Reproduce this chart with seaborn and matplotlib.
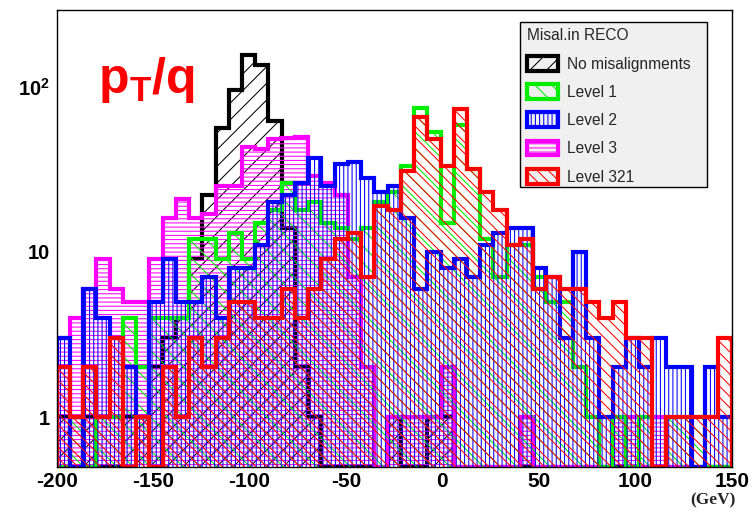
import numpy as np
import matplotlib
matplotlib.use("Agg")
import matplotlib.pyplot as plt
import matplotlib.colors as mcolors
from matplotlib.patches import Patch, Rectangle
from matplotlib.ticker import FixedLocator, FixedFormatter, LogLocator, NullFormatter, MultipleLocator
import seaborn as sns

# ---------------- data (counts per bin, 51 bins from -200 to 150 GeV) ----------------
BIN_EDGES = list(np.linspace(-200, 150, 52))

no_misal = [1, 0, 1, 0, 0, 1, 1, 2, 3, 4,
            9, 22, 56, 96, 156, 136, 62, 14, 2, 1,
            0, 0, 0, 0, 0, 1, 0, 0, 1, 1,
            0, 0, 0, 0, 0, 0, 0, 0, 0, 0,
            0, 0, 0, 0, 0, 0, 0, 0, 0, 0,
            0]
level1 = [0, 1, 0, 1, 1, 4, 2, 4, 4, 4,
          12, 12, 9, 13, 9, 15, 18, 26, 18, 20,
          15, 14, 12, 14, 20, 23, 33, 74, 53, 15,
          59, 32, 12, 7, 11, 11, 7, 5, 5, 2,
          1, 0, 1, 0, 1, 0, 1, 1, 1, 0,
          0]
level2 = [3, 0, 6, 4, 3, 2, 1, 5, 9, 5,
          5, 7, 4, 8, 8, 11, 20, 22, 26, 37,
          25, 34, 35, 28, 23, 25, 16, 6, 10, 8,
          9, 7, 11, 13, 14, 14, 8, 7, 3, 10,
          3, 1, 2, 3, 2, 3, 2, 2, 0, 2,
          1]
level3 = [3, 4, 6, 9, 6, 5, 5, 9, 16, 21,
          16, 17, 25, 25, 43, 42, 48, 49, 50, 29,
          26, 22, 7, 2, 0, 1, 1, 1, 1, 2,
          0, 0, 0, 0, 0, 1, 0, 0, 0, 0,
          0, 0, 1, 1, 0, 1, 0, 0, 0, 0,
          0]
level321 = [2, 1, 2, 1, 3, 0, 1, 0, 2, 1,
            3, 2, 3, 5, 5, 4, 4, 6, 4, 6,
            9, 12, 13, 7, 19, 18, 31, 66, 48, 33,
            73, 32, 23, 18, 11, 12, 6, 7, 6, 6,
            5, 4, 5, 3, 3, 0, 1, 1, 1, 1,
            3]

series_labels = ["No misalignments", "Level 1", "Level 2", "Level 3", "Level 321"]
series_values = [no_misal, level1, level2, level3, level321]
series_colors = ["#000000", "#00ee00", "#0000ff", "#ff00ff", "#ff0000"]
series_hatches = ["//", "\\\\", "||||", "----", "\\\\\\"]
draw_order = [0, 3, 1, 2, 4]

legend_title = "Misal.in RECO"
x_ticks = [-200, -150, -100, -50, 0, 50, 100, 150]
x_tick_labels = ["-200", "-150", "-100", "-50", "0", "50", "100", "150"]
y_ticks = [1, 10, 100]
y_tick_labels = ["1", "10", r"$\mathbf{10^{2}}$"]
Y_MIN, Y_MAX = 0.5, 292

# ---------------- style ----------------
sns.set_theme(style="white")
plt.rcParams["font.family"] = ["Liberation Sans", "DejaVu Sans"]
plt.rcParams["mathtext.fontset"] = "custom"
plt.rcParams["mathtext.rm"] = "Liberation Sans"
plt.rcParams["mathtext.bf"] = "Liberation Sans:bold"
plt.rcParams["mathtext.it"] = "Liberation Sans:italic"
plt.rcParams["axes.unicode_minus"] = False
plt.rcParams["hatch.linewidth"] = 0.75

LW = 3.0
W, H = 753, 515

fig = plt.figure(figsize=(7.53, 5.15), dpi=100)
ax = fig.add_axes([56.7 / W, 1 - 466.7 / H, 675 / W, 456.7 / H])
ax.set_yscale("log")

centers = [(a + b) / 2 for a, b in zip(BIN_EDGES[:-1], BIN_EDGES[1:])]
for z, i in enumerate(draw_order):
    vals = np.asarray(series_values[i], dtype=float)
    shown = list(np.where(vals > 0, vals, Y_MIN))  # ROOT draws empty bins on the frame bottom
    col = series_colors[i]
    n_before = len(ax.collections)
    sns.histplot(x=centers, weights=shown, bins=BIN_EDGES, element="step", fill=True,
                 color=col, facecolor="none", edgecolor=col, hatch=series_hatches[i],
                 linewidth=LW, ax=ax, zorder=2 + z)
    for coll in ax.collections[n_before:]:
        if hasattr(coll, "set_hatchcolor"):
            coll.set_hatchcolor(col)
        else:
            coll._hatch_color = mcolors.to_rgba(col)
        coll.set_joinstyle("miter")

ax.set_xlim(-200, 150)
ax.set_ylim(Y_MIN, Y_MAX)
ax.set_xlabel("")
ax.set_ylabel("")

ax.xaxis.set_major_locator(FixedLocator(x_ticks))
ax.xaxis.set_major_formatter(FixedFormatter(x_tick_labels))
ax.xaxis.set_minor_locator(MultipleLocator(10))
ax.yaxis.set_major_locator(FixedLocator(y_ticks))
ax.yaxis.set_major_formatter(FixedFormatter(y_tick_labels))
ax.yaxis.set_minor_locator(LogLocator(base=10, subs=np.arange(2, 10), numticks=20))
ax.yaxis.set_minor_formatter(NullFormatter())

ax.tick_params(axis="both", which="both", direction="in", colors="black", width=1)
ax.tick_params(axis="x", which="major", length=8, pad=4, labelsize=15)
ax.tick_params(axis="x", which="minor", length=4)
ax.tick_params(axis="y", which="major", length=15.5, pad=5, labelsize=14.5)
ax.tick_params(axis="y", which="minor", length=7.5)
for lab in ax.get_xticklabels() + ax.get_yticklabels():
    lab.set_fontweight("bold")
for sp in ax.spines.values():
    sp.set_color("black")
    sp.set_linewidth(1.0)
    sp.set_zorder(20)

# title inside plot
fig.text(98 / W, 1 - 93 / H, r"$\mathbf{p_{T}/q}$", color="#ff0000",
         fontsize=36, ha="left", va="baseline")

# axis unit
fig.text(736 / W, 1 - 500 / H, "(GeV)", ha="right", va="center",
         fontsize=12.5, fontweight="bold", family=["Liberation Serif", "DejaVu Serif"])

# legend box (ROOT TLegend style), drawn inside the axes just below the legend
box = Rectangle((520 / W, 1 - 186.7 / H), (706.7 - 520) / W, (186.7 - 21.7) / H,
                transform=fig.transFigure, facecolor="#f0f0f0", edgecolor="black",
                linewidth=1.0, zorder=29, clip_on=False)
ax.add_patch(box)

handles = [Patch(facecolor="none", edgecolor=series_colors[i], hatch=series_hatches[i],
                 linewidth=LW, label=series_labels[i]) for i in range(5)]
leg = ax.legend(handles=handles, title=legend_title, loc="upper left",
                bbox_to_anchor=(527 / W, 1 - 28.5 / H), bbox_transform=fig.transFigure,
                borderaxespad=0, borderpad=0, fontsize=11.2, title_fontsize=11.2,
                frameon=False, handlelength=2.0, handleheight=1.1, handletextpad=0.55,
                labelspacing=0.8, alignment="left")
leg.set_zorder(30)

fig.savefig("out.png", dpi=100)
